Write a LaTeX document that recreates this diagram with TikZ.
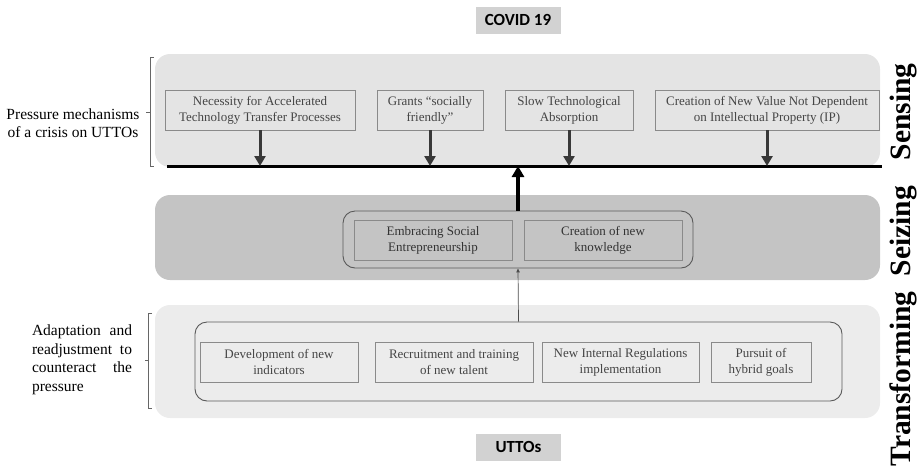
\documentclass[tikz,border=0pt]{standalone}
\usepackage{fontspec}
\setmainfont{Liberation Serif}
\newfontfamily\tagfont{Carlito}
\usetikzlibrary{arrows.meta}

\definecolor{senfill}{HTML}{E4E4E4}
\definecolor{seifill}{HTML}{C4C4C4}
\definecolor{trafill}{HTML}{ECECEC}
\definecolor{tagfill}{HTML}{D2D2D2}
\definecolor{boxline}{HTML}{8A8A8A}
\definecolor{boxtext}{HTML}{454545}

\tikzset{
 panel/.style={rounded corners=15pt,minimum width=725pt,inner sep=0pt},
 itembox/.style={draw=boxline,line width=0.9pt,text=boxtext,align=center,
   inner sep=0pt,minimum height=40pt,font=\fontsize{13}{16}\selectfont},
 groupbox/.style={draw=black!65,line width=0.9pt,rounded corners=12pt,inner sep=0pt},
 tagbox/.style={fill=tagfill,font=\tagfont\bfseries\fontsize{17}{17}\selectfont,
   minimum width=85pt,minimum height=27pt,inner sep=0pt},
 phase/.style={rotate=90,anchor=base,font=\fontsize{29.5}{30}\selectfont\bfseries},
 pressarrow/.style={draw=black!78,line width=3pt,-{Triangle[length=10pt,width=11pt]}},
 sidelabel/.style={font=\fontsize{15.5}{18.5}\selectfont,align=center},
 bracket/.style={draw=black!60,line width=0.8pt}
}

\begin{document}
\begin{tikzpicture}[x=1pt,y=-1pt]
\useasboundingbox (0,0) rectangle (917,472);

% the three phases
\node[panel,fill=senfill,minimum height=113pt] (sensing) at (517.5,110.5) {};
\node[panel,fill=seifill,minimum height=85pt] (seizing) at (517.5,237.5) {};
\node[panel,fill=trafill,minimum height=113pt] (transform) at (517.5,361.5) {};

\node[tagbox] (covid) at (518,20) {COVID 19};
\node[tagbox] (uttos) at (518.5,447) {UTTOs};

% sensing
\node[itembox,minimum width=190pt] (accel) at (260,110) {Necessity for Accelerated\\Technology Transfer Processes};
\node[itembox,minimum width=106pt] (grants) at (430,110) {Grants ``socially\\friendly''};
\node[itembox,minimum width=128pt] (absorb) at (569,110) {Slow Technological\\Absorption};
\node[itembox,minimum width=224pt] (ipvalue) at (767,110) {Creation of New Value Not Dependent\\on Intellectual Property (IP)};

\coordinate (lineL) at (167,166);
\coordinate (lineR) at (882,166);
\draw[line width=3pt] (lineL) -- (lineR);

\foreach \b in {accel,grants,absorb,ipvalue}
 \draw[pressarrow] (\b.south) -- (\b.south |- lineL);

% seizing
\node[groupbox,minimum width=350pt,minimum height=57pt] (seizgrp) at (518,239.5) {};
\node[itembox,minimum width=158pt,text=black!80] (socent) at (433,240) {Embracing Social\\Entrepreneurship};
\node[itembox,minimum width=158pt,text=black!80] (newknow) at (603,240) {Creation of new\\knowledge};

\draw[line width=3.5pt,-{Triangle[length=11pt,width=12pt]}] (seizgrp.north) -- (seizgrp.north |- lineL);

% transforming
\node[groupbox,minimum width=647pt,minimum height=79pt] (transgrp) at (518.5,361.5) {};
\node[itembox,minimum width=158pt] (indic) at (279,362) {Development of new\\indicators};
\node[itembox,minimum width=158pt] (talent) at (454,362) {Recruitment and training\\of new talent};
\node[itembox,minimum width=157pt] (regul) at (620.5,362) {New Internal Regulations\\implementation};
\node[itembox,minimum width=100pt] (hybrid) at (761,362) {Pursuit of\\hybrid goals};

\draw[draw=black!70,line width=0.7pt,-{Triangle[length=4pt,width=3.5pt]}] (transgrp.north) -- (seizgrp.south);

% side labels
\draw[bracket] (154,57) -- (150,57) -- (150,166) -- (154,166);
\draw[bracket] (150,112) -- (146,112);
\node[sidelabel] (presslab) at (73,123) {Pressure mechanisms\\of a crisis on UTTOs};

\draw[bracket] (152,313) -- (148,313) -- (148,408) -- (152,408);
\draw[bracket] (148,360) -- (145,360);
\node[sidelabel,align=left] (adaptlab) at (82,360)
 {\makebox[100pt][s]{Adaptation and}\\\makebox[100pt][s]{readjustment to}\\
  \makebox[100pt][s]{counteract the}\\\makebox[100pt][l]{pressure}};

\node[phase] (sensinglab) at (910,112) {Sensing};
\node[phase] (seizinglab) at (910,231) {Seizing};
\node[phase] (translab) at (910,379) {Transforming};

\end{tikzpicture}
\end{document}
